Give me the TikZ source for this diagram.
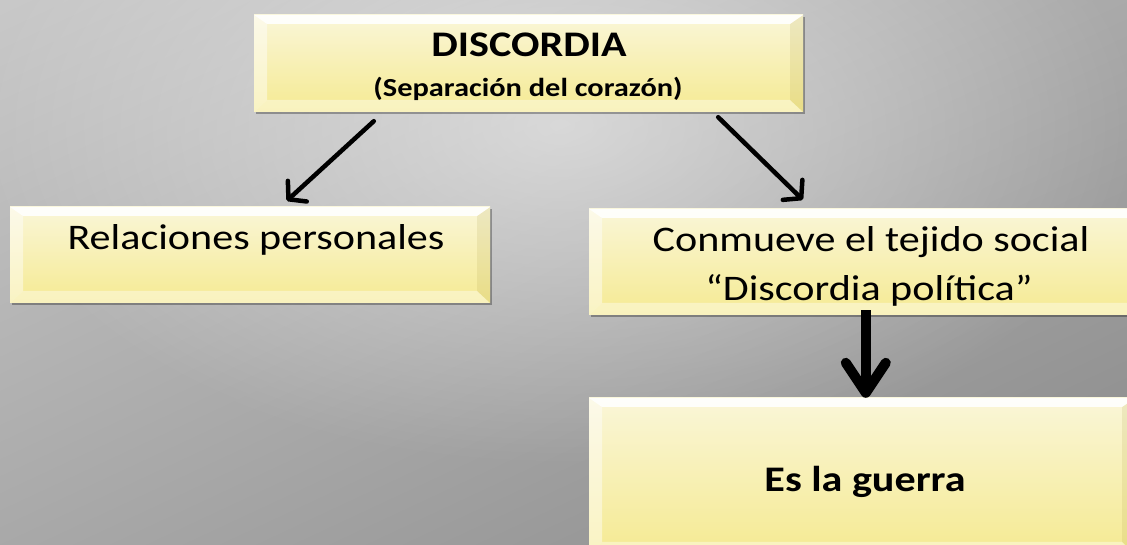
\documentclass[tikz,border=0pt]{standalone}
\usepackage{fontspec}
\newfontfamily\calfont[FakeStretch=1.17]{Carlito}
\usetikzlibrary{arrows.meta,shadows,fadings,calc}
\definecolor{bgA}{HTML}{D4D4D4}
\definecolor{bgB}{HTML}{7E7E7E}
\definecolor{boxtop}{HTML}{FAF6D8}
\definecolor{boxbot}{HTML}{F5EA92}
\definecolor{bevright}{HTML}{A89A40}
\tikzfading[name=glow, inner color=transparent!0, outer color=transparent!100]
\tikzset{
  bevelbox/.style={rectangle, inner sep=0pt, draw=none,
    top color=boxtop, bottom color=boxbot,
    drop shadow={shadow xshift=1.5pt, shadow yshift=-2.5pt, opacity=.3, fill=black},
    path picture={
      \path (path picture bounding box.north west) coordinate (bnw)
            (path picture bounding box.north east) coordinate (bne)
            (path picture bounding box.south west) coordinate (bsw)
            (path picture bounding box.south east) coordinate (bse);
      \fill[white, opacity=.45] (bnw) -- ([shift={(13pt,-9pt)}]bnw) -- ([shift={(13pt,12pt)}]bsw) -- (bsw) -- cycle;
      \fill[bevright, opacity=.15] (bne) -- ([shift={(-13pt,-9pt)}]bne) -- ([shift={(-13pt,12pt)}]bse) -- (bse) -- cycle;
      \fill[white, opacity=.9] (bnw) -- (bne) -- ([shift={(-13pt,-9pt)}]bne) -- ([shift={(13pt,-9pt)}]bnw) -- cycle;
      \fill[white, opacity=.4] (bsw) -- (bse) -- ([shift={(-13pt,12pt)}]bse) -- ([shift={(13pt,12pt)}]bsw) -- cycle;
    }},
  bigtxt/.style={anchor=base, inner sep=0pt, font={\calfont\fontsize{36}{40}\selectfont}},
  boldtxt/.style={anchor=base, inner sep=0pt, font={\calfont\bfseries\fontsize{36}{40}\selectfont}},
  subtxt/.style={anchor=base, inner sep=0pt, font={\calfont\bfseries\fontsize{26}{30}\selectfont}},
  thinarrow/.style={line width=4.5pt, line cap=round, line join=round,
    -{Straight Barb[length=12pt, width=28pt, line cap=round, line join=round]}},
  bigarrow/.style={line width=10pt, line join=round,
    -{Straight Barb[length=30pt, width=40pt, line cap=round, line join=round]}},
}
\begin{document}
\begin{tikzpicture}[x=1pt, y=1pt]
\useasboundingbox (0,0) rectangle (1127,545);
\clip (0,0) rectangle (1127,545);
% background
\shade[shading=axis, top color=bgA, bottom color=bgB, shading angle=25] (-300,-300) rectangle (1427,845);
\fill[white, opacity=.5, path fading=glow] (560,420) ellipse (580 and 340);

% boxes
\node[bevelbox, minimum width=549pt, minimum height=97pt] (top) at (528.5,481.5) {};
\node[bevelbox, minimum width=480pt, minimum height=96pt] (rel) at (250,290) {};
\node[bevelbox, minimum width=552pt, minimum height=106pt] (con) at (865,283) {};
\node[bevelbox, minimum width=546pt, minimum height=156pt] (war) at (862,69) {};

% texts
\node[boldtxt] (t1) at (529,488) {DISCORDIA};
\node[subtxt] (t2) at (528,448) {(Separación del corazón)};
\node[bigtxt] (t3) at (256,295) {Relaciones personales};
\node[bigtxt] (t4) at (871,293) {Conmueve el tejido social};
\node[bigtxt] (t5) at (869,244) {“Discordia política”};
\node[boldtxt] (t6) at (865,53) {Es la guerra};

% connectors
\draw[thinarrow] ($(top.south west)+(120,-9)$) -- ($(rel.north west)+(277,6)$);
\draw[thinarrow] ($(top.south east)+(-85,-5)$) -- ($(con.north west)+(214,9)$);
\draw[bigarrow] ($(con.south west)+(277,5)$) -- ($(war.north west)+(277,0)$);
\end{tikzpicture}
\end{document}
